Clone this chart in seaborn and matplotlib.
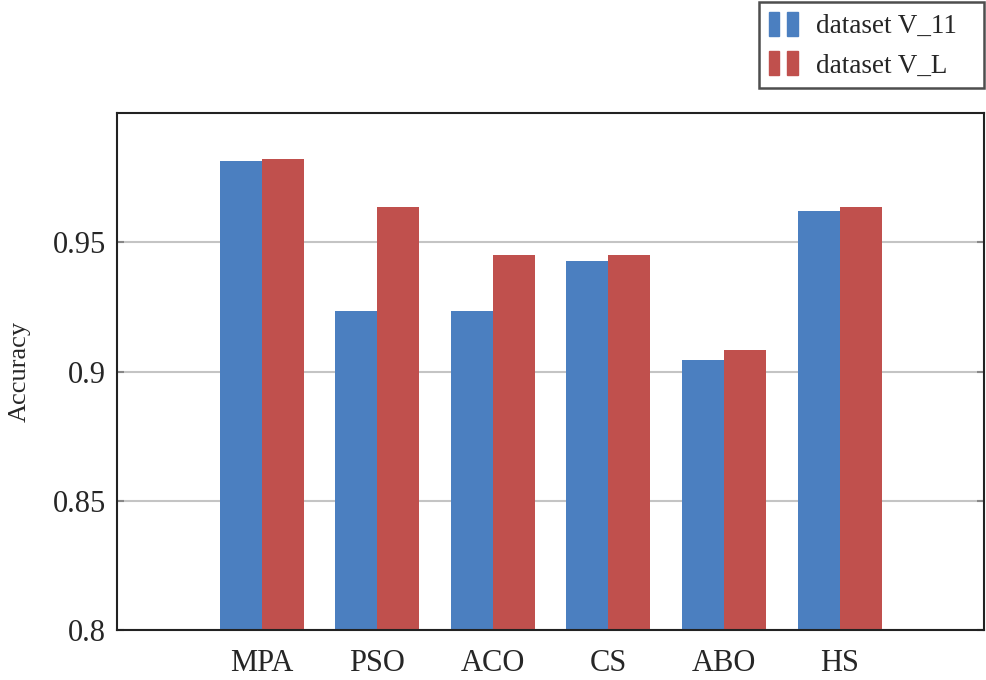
import matplotlib
matplotlib.use("Agg")
import matplotlib.pyplot as plt
import seaborn as sns
import pandas as pd
from matplotlib.patches import Patch
from matplotlib.legend_handler import HandlerTuple

categories = ["MPA", "PSO", "ACO", "CS", "ABO", "HS"]
series_names = ["dataset V_11", "dataset V_L"]
v11 = [0.9813, 0.9233, 0.9233, 0.9427, 0.9044, 0.9620]
vL = [0.9821, 0.9635, 0.9450, 0.9450, 0.9082, 0.9635]
yticks = [0.8, 0.85, 0.9, 0.95]
ytick_labels = ["0.8", "0.85", "0.9", "0.95"]
colors = ["#4b7fc0", "#c0504d"]

sns.set_style("white")
plt.rcParams["font.family"] = ["Liberation Serif", "DejaVu Serif"]

df = pd.DataFrame({
    "Algorithm": categories * 2,
    "Accuracy": v11 + vL,
    "Dataset": [series_names[0]] * len(categories) + [series_names[1]] * len(categories),
})

fig = plt.figure(figsize=(9.86, 6.8), dpi=100)
ax = fig.add_axes([0.1187, 0.0735, 0.8793, 0.7603])

sns.barplot(data=df, x="Algorithm", y="Accuracy", hue="Dataset",
            palette=colors, width=0.727, gap=0, ax=ax, legend=False,
            saturation=1, linewidth=0, errorbar=None)

ax.set_ylim(0.8, 1.0)
ax.set_xlim(-1.25, 5 + 1.25)
ax.set_yticks(yticks)
ax.set_yticklabels(ytick_labels)
ax.set_xlabel("")
ax.set_ylabel("Accuracy", fontsize=19)
ax.yaxis.set_label_coords(-0.1, 0.5)
ax.tick_params(axis="y", direction="in", length=5, width=1.5, color="#888888",
               labelsize=22, right=True, left=True, pad=8)
ax.tick_params(axis="x", length=0, labelsize=22, pad=14)
ax.grid(axis="y", color="#c4c4c4", linewidth=1.5)
ax.set_axisbelow(True)
for s in ax.spines.values():
    s.set_color("#222222")
    s.set_linewidth(1.5)

handles = [(Patch(color=colors[0]), Patch(color=colors[0])),
           (Patch(color=colors[1]), Patch(color=colors[1]))]
leg = fig.legend(handles, series_names, loc="upper left",
                 bbox_to_anchor=(0.7698, 0.8706, 0.2282, 0.1264),
                 mode="expand", borderaxespad=0, fontsize=19.5,
                 handler_map={tuple: HandlerTuple(ndivide=2, pad=0.3)},
                 handlelength=1.1, handleheight=1.0, handletextpad=0.65,
                 frameon=True, fancybox=False, edgecolor="#222222",
                 borderpad=0.35, labelspacing=0.45)
leg.get_frame().set_linewidth(1.8)

fig.savefig("out.png", dpi=100)
